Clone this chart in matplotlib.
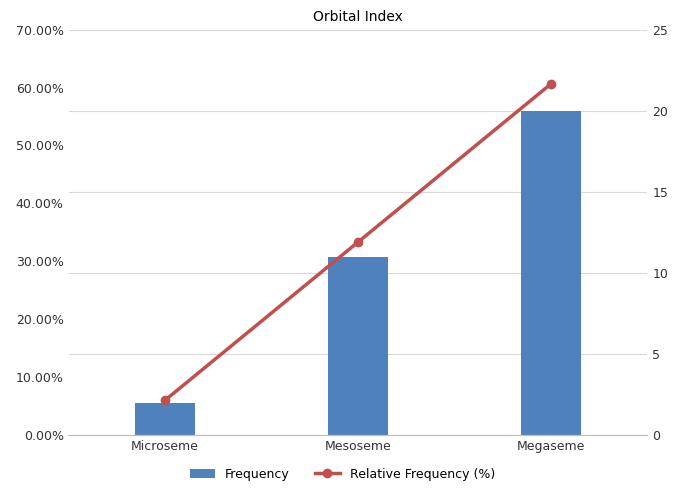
import matplotlib.pyplot as plt
from matplotlib.ticker import FuncFormatter

categories = ['Microseme', 'Mesoseme', 'Megaseme']
frequency = [2, 11, 20]
relative_freq = [6.06, 33.33, 60.61]

fig, ax = plt.subplots(figsize=(6.85, 4.92), dpi=100)
ax2 = ax.twinx()
x = range(len(categories))

# bars on the right axis, line on the left axis drawn on top
ax2.bar(x, frequency, width=0.31, color='#4f81bd', label='Frequency', zorder=2)
ax.set_zorder(ax2.get_zorder() + 1)
ax.patch.set_visible(False)
ax.plot(x, relative_freq, color='#c0504d', linewidth=2.5, marker='o', markersize=6,
        label='Relative Frequency (%)')

ax.set_ylim(0, 70)
ax.set_yticks(range(0, 71, 10))
ax.yaxis.set_major_formatter(FuncFormatter(lambda v, p: f'{v:.2f}%'))
ax2.set_ylim(0, 25)
ax2.set_yticks(range(0, 26, 5))
ax.set_xlim(-0.5, 2.5)
ax.set_xticks(list(x))
ax.set_xticklabels(categories)

ax2.grid(axis='y', color='#d9d9d9', linewidth=0.8, zorder=0)
ax2.set_axisbelow(True)
for a in (ax, ax2):
    for s in ['top', 'left', 'right']:
        a.spines[s].set_visible(False)
    a.spines['bottom'].set_color('#bfbfbf')
    a.tick_params(length=0, labelsize=9, colors='#333333')

ax.set_title('Orbital Index', fontsize=10, pad=6)

h1, l1 = ax2.get_legend_handles_labels()
h2, l2 = ax.get_legend_handles_labels()
fig.legend(h1 + h2, l1 + l2, loc='lower center', ncol=2, frameon=False,
           fontsize=9, bbox_to_anchor=(0.5, 0.0))

plt.subplots_adjust(left=0.1, right=0.945, top=0.94, bottom=0.115)
plt.savefig('out.png', dpi=100)
